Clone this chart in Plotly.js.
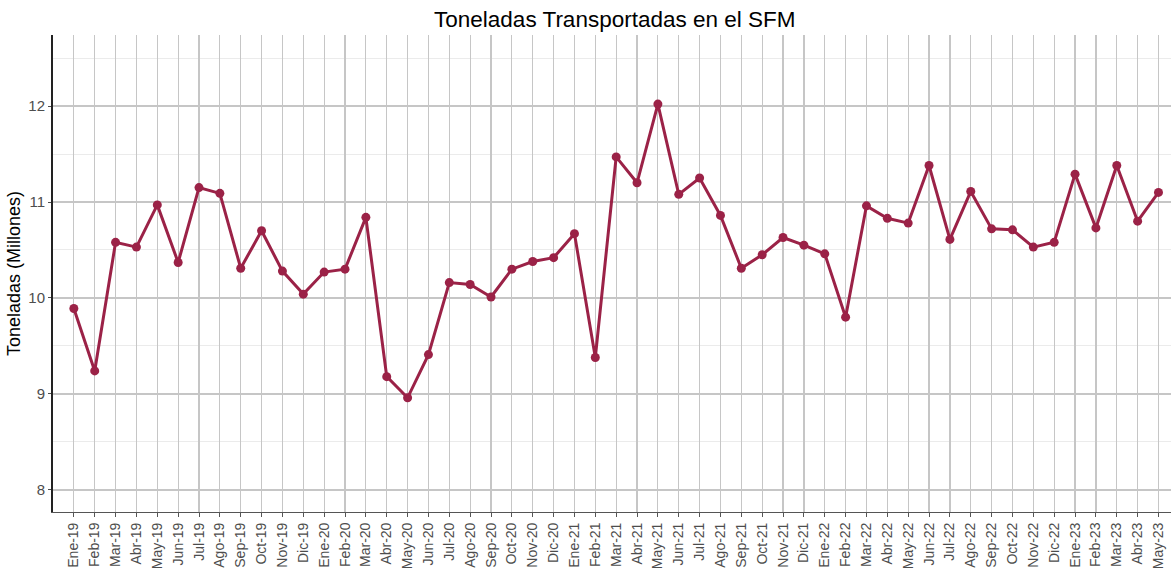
<!DOCTYPE html>
<html>
<head>
<meta charset="utf-8">
<script src="https://cdn.plot.ly/plotly-3.0.1.min.js"></script>
<style>html,body{margin:0;padding:0;background:#fff;}#chart{width:1171px;height:569px;}</style>
</head>
<body>
<div id="chart"></div>
<script>
const months = ["Ene-19","Feb-19","Mar-19","Abr-19","May-19","Jun-19","Jul-19","Ago-19","Sep-19","Oct-19","Nov-19","Dic-19",
"Ene-20","Feb-20","Mar-20","Abr-20","May-20","Jun-20","Jul-20","Ago-20","Sep-20","Oct-20","Nov-20","Dic-20",
"Ene-21","Feb-21","Mar-21","Abr-21","May-21","Jun-21","Jul-21","Ago-21","Sep-21","Oct-21","Nov-21","Dic-21",
"Ene-22","Feb-22","Mar-22","Abr-22","May-22","Jun-22","Jul-22","Ago-22","Sep-22","Oct-22","Nov-22","Dic-22",
"Ene-23","Feb-23","Mar-23","Abr-23","May-23"];
const toneladas = [9.89,9.24,10.58,10.53,10.97,10.37,11.15,11.09,10.31,10.70,10.28,10.04,
10.27,10.30,10.84,9.18,8.96,9.41,10.16,10.14,10.01,10.30,10.38,10.42,
10.67,9.38,11.47,11.20,12.02,11.08,11.25,10.86,10.31,10.45,10.63,10.55,
10.46,9.80,10.96,10.83,10.78,11.38,10.61,11.11,10.72,10.71,10.53,10.58,
11.29,10.73,11.38,10.80,11.10];
const yTicks = [8,9,10,11,12];

const trace = {
  x: months, y: toneladas, type: 'scatter', mode: 'lines+markers',
  line: {color: '#9B2247', width: 3},
  marker: {color: '#9B2247', size: 9},
  hoverinfo: 'x+y'
};
const layout = {
  width: 1171, height: 569,
  margin: {l: 53, r: 0, t: 35, b: 57},
  paper_bgcolor: '#ffffff', plot_bgcolor: '#ffffff',
  font: {family: 'Liberation Sans, Arial, sans-serif', color: '#000'},
  showlegend: false,
  title: {text: 'Toneladas Transportadas en el SFM', font: {size: 22.5, color: '#000'},
          x: 0.525, xanchor: 'center', y: 0.967, yanchor: 'middle'},
  xaxis: {
    type: 'category', range: [-1, 52.6],
    tickangle: -90, tickfont: {size: 14, color: '#4d4d4d'},
    showgrid: true, gridcolor: '#c6c6c6', gridwidth: 1.2,
    showline: true, linecolor: '#555555', linewidth: 1,
    ticks: 'outside', ticklen: 4, tickcolor: '#555555',
    zeroline: false, fixedrange: true
  },
  yaxis: {
    range: [7.77, 12.74], tickvals: yTicks, ticktext: yTicks.map(String),
    tickfont: {size: 15, color: '#4d4d4d'},
    showgrid: true, gridcolor: '#c6c6c6', gridwidth: 1.2,
    minor: {dtick: 0.5, tick0: 0, showgrid: true, gridcolor: '#ebebeb', gridwidth: 1},
    showline: true, linecolor: '#222222', linewidth: 2,
    ticks: 'outside', ticklen: 3, tickcolor: '#4d4d4d',
    zeroline: false,
    title: {text: 'Toneladas (Millones)', font: {size: 18, color: '#000'}, standoff: 3}
  }
};
Plotly.newPlot('chart', [trace], layout, {displayModeBar: false, staticPlot: true});
</script>
</body>
</html>
